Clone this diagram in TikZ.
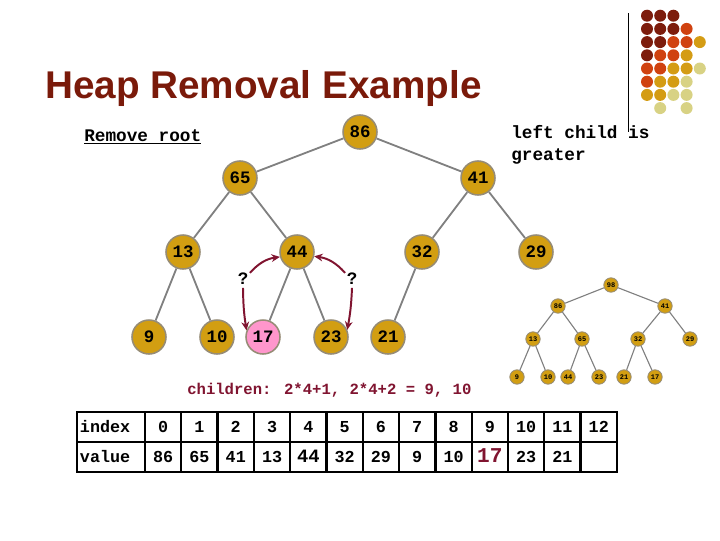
\documentclass[tikz,border=0pt]{standalone}
\usepackage{fontspec}
\setmainfont{Liberation Sans}
\newfontfamily\codefont{Liberation Mono}
\usetikzlibrary{arrows.meta,positioning}

\definecolor{heapgold}{RGB}{210,158,18}
\definecolor{ringgray}{RGB}{150,140,118}
\definecolor{edgegray}{RGB}{128,128,128}
\definecolor{pickred}{RGB}{128,20,48}
\definecolor{titlered}{RGB}{122,26,10}
\definecolor{swappink}{RGB}{255,150,204}
\definecolor{dk}{RGB}{125,28,12}
\definecolor{og}{RGB}{208,66,16}
\definecolor{gd}{RGB}{212,156,20}
\definecolor{lt}{RGB}{216,210,132}

\newcommand\code[1]{\codefont\bfseries\fontsize{#1}{#1}\selectfont}

\tikzset{
  heap/.style={circle, draw=ringgray, line width=1.1pt, fill=heapgold,
    minimum size=0.85cm, inner sep=0pt, font=\code{12.4}},
  mini/.style={heap, minimum size=0.36cm, line width=0.6pt, font=\code{5}},
  edge/.style={draw=edgegray, line width=1.3pt},
  miniedge/.style={draw=edgegray, line width=0.8pt},
  pick/.style={draw=pickred, line width=1.4pt, -{Stealth[length=6pt,width=5.5pt]}},
  note/.style={inner sep=0pt, font=\code{12.6}},
  cell/.style={draw, line width=1.6pt, minimum width=0.9075cm, minimum height=0.75cm,
    inner sep=0pt, font=\code{11.9}},
  dot/.style={circle, inner sep=0pt, minimum size=0.3cm}
}

\begin{document}
\begin{tikzpicture}[x=0.025cm, y=-0.025cm]
\useasboundingbox (0,0) rectangle (720,540);

% title and notes
\node[anchor=base west, inner sep=0pt, text=titlered,
  font=\bfseries\fontsize{27.5}{30}\selectfont] (title) at (45,98) {Heap Removal Example};
\node[note, anchor=base west] (remove) at (84,141) {\underline{Remove root}};
\node[note, anchor=base west] (left1) at (511,138) {left child is};
\node[note, anchor=base west] (left2) at (511,160) {greater};

% corner decoration
\coordinate (bartop) at (628,13);
\coordinate (barbot) at (628,132);
\draw[line width=0.6pt] (bartop) -- (barbot);
\foreach [count=\r] \row in {{dk,dk,dk},{dk,dk,dk,og},{dk,dk,og,og,gd},{dk,og,og,gd},
  {og,og,gd,gd,lt},{og,gd,gd,lt},{gd,gd,lt,lt},{none,lt,none,lt}}
{
  \foreach [count=\c] \col in \row
    \node[dot, fill=\col] (dot-\r-\c) at ({647+13.2*(\c-1)},{15.7+13.2*(\r-1)}) {};
}

% heap after removing the root
\foreach \v/\x/\y/\f in {86/360/132/heapgold, 65/240/178/heapgold, 41/478/178/heapgold,
  13/183/252/heapgold, 44/297/252/heapgold, 32/422/252/heapgold, 29/536/252/heapgold,
  9/149/337/heapgold, 10/217/337/heapgold, 17/263/337/swappink, 23/331/337/heapgold,
  21/388/337/heapgold}
  \node[heap, fill=\f] (n\v) at (\x,\y) {\v};

\foreach \a/\b in {86/65,86/41,65/13,65/44,41/32,41/29,13/9,13/10,44/17,44/23,32/21}
  \draw[edge] (n\a) -- (n\b);

% comparing the children
\node[note, font=\code{12.4}] (q1) at (243,279) {?};
\node[note, font=\code{12.4}] (q2) at (352,279) {?};
\draw[pick] ([xshift=1pt]q1.north east) to[bend left=20] (n44.196);
\draw[pick] ([xshift=-1pt]q2.north west) to[bend right=20] (n44.-14);
\draw[pick] ([yshift=-2pt]q1.south) to[bend right=4] (n17.158);
\draw[pick] ([yshift=-2pt]q2.south) to[bend left=4] (n23.24);

\node[note, anchor=base west, text=pickred, font=\code{11.1}] (kids) at (187,394)
  {children: 2*4+1, 2*4+2 = 9, 10};

% small heap before the removal
\foreach \v/\x/\y in {98/611/285, 86/558/306, 41/665/306, 13/533/339, 65/582/339,
  32/638/339, 29/690/339, 9/517/377, 10/548/377, 44/568/377, 23/599/377,
  21/624/377, 17/655/377}
  \node[mini] (m\v) at (\x,\y) {\v};

\foreach \a/\b in {98/86,98/41,86/13,86/65,41/32,41/29,13/9,13/10,65/44,65/23,32/21,32/17}
  \draw[miniedge] (m\a) -- (m\b);

% array
\node[cell, minimum width=1.7cm, text width=1.55cm, align=left] (idx) at (111,427) {index};
\node[cell, minimum width=1.7cm, text width=1.55cm, align=left] (val) at (111,457) {value};
\foreach [count=\i from 0] \v in {86,65,41,13,{\raisebox{1pt}{\code{13.4}44}},32,29,9,10,
  {\raisebox{1.5pt}{\textcolor{pickred}{\code{15}17}}},23,21,{}}
{
  \node[cell] (idx\i) at ({145+36.3*(\i+0.5)},427) {\i};
  \node[cell] (val\i) at ({145+36.3*(\i+0.5)},457) {\v};
}
\end{tikzpicture}
\end{document}
